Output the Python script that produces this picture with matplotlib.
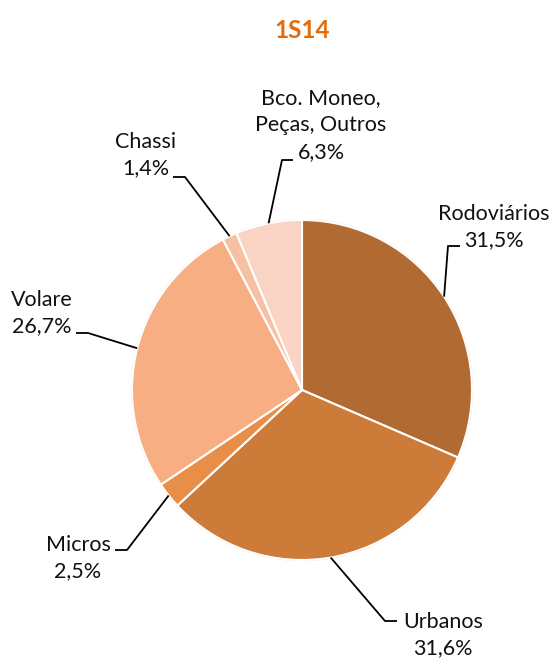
import numpy as np
import matplotlib
matplotlib.use("Agg")
import matplotlib.pyplot as plt

title = "1S14"
categories = ["Rodoviários", "Urbanos", "Micros", "Volare", "Chassi", "Bco. Moneo,\nPeças, Outros"]
values = [31.5, 31.6, 2.5, 26.7, 1.4, 6.3]
colors = ["#B26A33", "#CD7B39", "#E88E46", "#F6AE82", "#F8C0A2", "#F9D3C3"]

# layout (pixel coordinates, y measured from top)
W, H = 555, 659
cx, cy, R = 302, 390, 170
label_pos = [(494, 227), (443, 635), (78, 558), (42, 313), (146, 155), (321, 125)]
elbows = [[(448, 246), (460, 246)],
          [(385, 621), (397, 621)],
          [(127, 550), (115, 550)],
          [(88, 333), (76, 333)],
          [(185, 177), (173, 177)],
          [(282, 160), (293, 160)]]

plt.rcParams['font.family'] = ['Lato', 'DejaVu Sans']
fig = plt.figure(figsize=(W / 100, H / 100), dpi=100)
ax = fig.add_axes([0, 0, 1, 1])

wedges, _ = ax.pie(values, colors=colors, startangle=90, counterclock=False,
                   center=(cx, H - cy), radius=R,
                   wedgeprops=dict(edgecolor='white', linewidth=1.5))
ax.set_xlim(0, W)
ax.set_ylim(0, H)
ax.set_aspect('equal')
ax.axis('off')

# faint outline
circ = plt.Circle((cx, H - cy), R + 0.5, fill=False, edgecolor='#D9D9D9', linewidth=0.8, zorder=0)
ax.add_patch(circ)

total = sum(values)
cum = 0
for i, v in enumerate(values):
    mid = 90 - (cum + v / 2) / total * 360
    cum += v
    ex = cx + R * np.cos(np.radians(mid))
    ey = H - cy + R * np.sin(np.radians(mid))
    pts = [(ex, ey)] + [(x, H - y) for x, y in elbows[i]]
    ax.plot([p[0] for p in pts], [p[1] for p in pts], color='black', lw=1.3,
            solid_capstyle='butt')
    lx, ly = label_pos[i]
    pct = f"{v:.1f}%".replace('.', ',')
    ax.text(lx, H - ly, f"{categories[i]}\n{pct}",
            ha='center', va='center', fontsize=15.5, color='#111111', linespacing=1.42)

ax.text(cx, H - 30, title, ha='center', va='center', fontsize=17.5, fontweight='bold',
        color='#E46C0A')

fig.savefig("out.png", dpi=100)
